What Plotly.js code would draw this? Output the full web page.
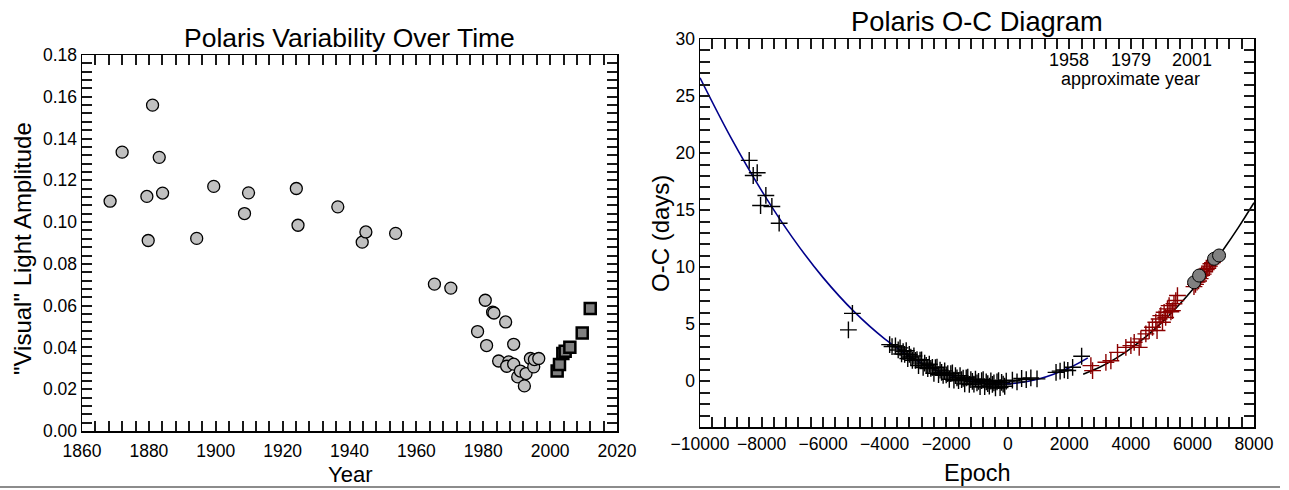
<!DOCTYPE html>
<html><head><meta charset="utf-8">
<script src="https://cdn.plot.ly/plotly-3.0.1.min.js"></script>
<style>body{margin:0;background:#fff;} #c{width:1289px;height:490px;} #rule{position:absolute;left:0;top:486px;width:1280px;height:2px;background:#8c8c8c;}</style>
</head><body><div id="c"></div><div id="rule"></div>
<script>
// Left chart: amplitude over time
const circleYear = [1868.4,1872,1881.1,1883.1,1879.4,1884.1,1879.8,1894.3,1899.4,1909.8,1908.6,1924.1,1924.6,1936.5,1943.8,1944.9,1953.8,1965.4,1970.3,1980.6,1982.8,1983.2,1986.7,1978.3,1981,1989.1,1984.6,1987.6,1987,1989.1,1990.3,1991.1,1992.3,1992.8,1994.1,1995.1,1995.3,1996.6];
const circleAmp = [0.110,0.1335,0.156,0.131,0.1123,0.1139,0.0912,0.0922,0.1171,0.1140,0.1041,0.1161,0.0985,0.1073,0.0904,0.0953,0.0946,0.0703,0.0684,0.0626,0.0569,0.0565,0.0522,0.0476,0.0409,0.0415,0.0335,0.0331,0.031,0.032,0.0259,0.0287,0.0216,0.0275,0.0347,0.0307,0.0342,0.0347];
const squareYear = [2002.1,2002.8,2003.8,2004.5,2005.9,2009.6,2012];
const squareAmp = [0.0287,0.0318,0.0371,0.0382,0.0401,0.0469,0.0586];

// Right chart: O-C diagram
const blackE = [-8401,-8271,-8141,-8032,-7860,-7665,-7428,-5048,-5178,-3838,-3760,-3650,-3560,-3500,-3450,-3400,-3350,-3300,-3250,-3200,-3150,-3100,-3050,-3000,-2950,-2900,-2850,-2800,-2750,-2700,-2650,-2600,-2550,-2500,-2450,-2400,-2350,-2300,-2250,-2200,-2150,-2100,-2050,-2000,-1950,-1900,-1850,-1800,-1750,-1700,-1650,-1600,-1550,-1500,-1450,-1400,-1350,-1300,-1250,-1200,-1150,-1100,-1050,-1000,-950,-900,-850,-800,-750,-700,-650,-600,-550,-500,-450,-400,-350,-300,-250,-200,-150,-100,-50,150,300,450,600,750,950,1568,1700,1837,1950,2107,2400];
const blackOC = [19.36,18.04,18.28,15.41,16.29,15.32,13.86,5.96,4.51,3.22,3.05,3.10,2.75,2.93,2.40,2.61,2.37,2.68,2.00,2.36,2.13,1.85,2.22,1.84,1.91,1.39,1.86,1.89,1.22,1.60,1.39,1.12,1.50,1.14,1.22,0.71,1.20,1.24,0.59,0.98,0.78,0.52,0.92,0.57,0.67,0.18,0.68,0.74,0.10,0.50,0.31,0.07,0.49,0.15,0.27,-0.22,0.30,0.37,-0.26,0.16,-0.01,-0.24,0.19,-0.13,0.00,-0.47,0.06,0.14,-0.47,-0.04,-0.20,-0.41,0.03,-0.27,-0.13,-0.58,-0.04,0.06,-0.54,-0.09,-0.24,-0.43,0.02,0.10,-0.05,0.25,0.15,0.30,0.22,0.79,0.90,1.00,0.95,1.23,2.20];
const redE = [2700,2755,3188,3350,3566,3837,4000,4108,4270,4324,4486,4594,4702,4810,4850,4918,4972,5026,5080,5130,5188,5242,5300,5350,5400,5459,5513,6050,6100,6150,6200,6250,6300,6350,6400,6450,6500,6550,6600,6650,6700,6750];
const redOC = [1.38,0.94,1.67,1.80,2.54,2.98,3.13,3.42,2.98,3.72,4.16,4.45,4.74,5.18,4.45,5.47,5.76,5.18,6.05,5.60,6.35,6.64,6.10,6.20,6.80,7.08,7.52,8.3,8.5,8.7,8.8,9.0,9.3,9.4,9.6,9.8,9.9,10.1,10.3,10.4,10.6,10.7];
const grayE = [6053,6216,6702,6864];
const grayOC = [8.68,9.27,10.74,11.03];
const blueFitE = [-10000,-9000,-8000,-7000,-6000,-5000,-4000,-3000,-2000,-1000,0,1000,2000,2600];
const blueFitOC = [26.6,21.38,16.72,12.62,9.09,6.13,3.73,1.89,0.62,-0.08,-0.22,0.20,1.19,2.06];
const blackFitE = [2450,3000,3500,4000,4500,5000,5500,6000,6500,7000,7500,8000];
const blackFitOC = [0.62,1.25,1.99,2.89,3.94,5.15,6.51,8.03,9.70,11.53,13.51,15.65];
const yearTickE = [2000,4000,6000];
const yearTickText = ['1958','1979','2001'];

const FONT = 'Liberation Sans, Arial, sans-serif';
const traces = [
  {x: circleYear, y: circleAmp, type:'scatter', mode:'markers', xaxis:'x', yaxis:'y',
   marker:{symbol:'circle', size:12, color:'#c0c0c0', line:{color:'#000', width:1.3}}},
  {x: squareYear, y: squareAmp, type:'scatter', mode:'markers', xaxis:'x', yaxis:'y',
   marker:{symbol:'square', size:11, color:'#808080', line:{color:'#000', width:2.5}}},
  {x: blueFitE, y: blueFitOC, type:'scatter', mode:'lines', xaxis:'x2', yaxis:'y2',
   line:{color:'#00008b', width:1.6, shape:'spline'}},
  {x: blackFitE, y: blackFitOC, type:'scatter', mode:'lines', xaxis:'x2', yaxis:'y2',
   line:{color:'#000', width:1.6, shape:'spline'}},
  {x: blackE, y: blackOC, type:'scatter', mode:'markers', xaxis:'x2', yaxis:'y2',
   marker:{symbol:'cross-thin', size:12, line:{color:'#000', width:1.4}}},
  {x: redE, y: redOC, type:'scatter', mode:'markers', xaxis:'x2', yaxis:'y2',
   marker:{symbol:'cross-thin', size:12, line:{color:'#8b0000', width:1.4}}},
  {x: grayE, y: grayOC, type:'scatter', mode:'markers', xaxis:'x2', yaxis:'y2',
   marker:{symbol:'circle', size:13, color:'#808080', line:{color:'#000', width:1}}},
  // invisible carriers for the minor-tick overlay axes
  {x:[1860], y:[0], xaxis:'x3', yaxis:'y', mode:'markers', marker:{opacity:0}, hoverinfo:'skip'},
  {x:[1860], y:[0], xaxis:'x', yaxis:'y3', mode:'markers', marker:{opacity:0}, hoverinfo:'skip'},
  {x:[0], y:[0], xaxis:'x4', yaxis:'y2', mode:'markers', marker:{opacity:0}, hoverinfo:'skip'},
  {x:[0], y:[0], xaxis:'x2', yaxis:'y4', mode:'markers', marker:{opacity:0}, hoverinfo:'skip'}
];

const axBase = {showline:true, linecolor:'#000', linewidth:1.5, mirror:'allticks', ticks:'inside',
  ticklen:10, tickwidth:2, tickcolor:'#1a1a1a', showgrid:false, zeroline:false,
  tickfont:{family:FONT, size:17.5, color:'#000'}};
function minorTicks(d) { return {ticks:'inside', ticklen:5.5, tickwidth:2, tickcolor:'#1a1a1a', dtick:d, showgrid:false}; }
function minorAxis(base, range, d, t0, side) {
  return {overlaying:base, side:side, range:range, dtick:d, tick0:t0, ticks:'inside', ticklen:5.5, tickwidth:2,
    tickcolor:'#1a1a1a', mirror:'allticks', showline:false, showticklabels:false, showgrid:false, zeroline:false};
}

const layout = {
  width:1289, height:490, margin:{l:0,r:0,t:0,b:0}, showlegend:false,
  paper_bgcolor:'#fff', plot_bgcolor:'#fff', font:{family:FONT, color:'#000'},
  xaxis: Object.assign({}, axBase, {domain:[82/1289, 617/1289], anchor:'y', range:[1860,2020], dtick:20, tick0:1860,
    ticklabelstandoff:3, minor:minorTicks(4)}),
  yaxis: Object.assign({}, axBase, {domain:[(490-431)/490, (490-55)/490], anchor:'x', range:[0,0.18], dtick:0.02,
    tickformat:'.2f', minor:minorTicks(0.004)}),
  xaxis2: Object.assign({}, axBase, {domain:[700/1289, 1254/1289], anchor:'y2', range:[-10000,8000], dtick:2000, tick0:0,
    tickformat:'d', exponentformat:'none', minor:minorTicks(400)}),
  yaxis2: Object.assign({}, axBase, {domain:[(490-427)/490, (490-39)/490], anchor:'x2', range:[-4,30], dtick:5, tick0:0,
    minor:minorTicks(1)}),
  xaxis3: Object.assign(minorAxis('x', [1860,2020], 4, 1860, 'bottom'), {anchor:'y'}),
  yaxis3: Object.assign(minorAxis('y', [0,0.18], 0.004, 0, 'left'), {anchor:'x'}),
  xaxis4: Object.assign(minorAxis('x2', [-10000,8000], 400, 0, 'bottom'), {anchor:'y2'}),
  yaxis4: Object.assign(minorAxis('y2', [-4,30], 1, 0, 'left'), {anchor:'x2'}),
  annotations: [
    {text:'Polaris Variability Over Time', xref:'paper', yref:'paper', x:349.5/1289, y:(490-38)/490,
     xanchor:'center', yanchor:'middle', showarrow:false, font:{family:FONT, size:26.5}},
    {text:'Polaris O-C Diagram', xref:'paper', yref:'paper', x:977/1289, y:(490-22)/490,
     xanchor:'center', yanchor:'middle', showarrow:false, font:{family:FONT, size:27.3}},
    {text:'Year', xref:'paper', yref:'paper', x:350/1289, y:(490-474)/490,
     xanchor:'center', yanchor:'middle', showarrow:false, font:{family:FONT, size:22}},
    {text:'Epoch', xref:'paper', yref:'paper', x:977/1289, y:(490-473)/490,
     xanchor:'center', yanchor:'middle', showarrow:false, font:{family:FONT, size:23.5}},
    {text:'"Visual" Light Amplitude', xref:'paper', yref:'paper', x:22/1289, y:(490-249)/490, textangle:-90,
     xanchor:'center', yanchor:'middle', showarrow:false, font:{family:FONT, size:24}},
    {text:'O-C (days)', xref:'paper', yref:'paper', x:660/1289, y:(490-233)/490, textangle:-90,
     xanchor:'center', yanchor:'middle', showarrow:false, font:{family:FONT, size:24}},
    {text:'approximate year', xref:'x2', yref:'y2', x:yearTickE[1], y:26.5,
     xanchor:'center', yanchor:'middle', showarrow:false, font:{family:FONT, size:18}}
  ].concat(yearTickE.map((e,i)=>({text:yearTickText[i], xref:'x2', yref:'y2', x:e, y:28.2,
     xanchor:'center', yanchor:'middle', showarrow:false, font:{family:FONT, size:18}})))
};

Plotly.newPlot('c', traces, layout, {staticPlot:true, displayModeBar:false});
</script>
</body></html>
